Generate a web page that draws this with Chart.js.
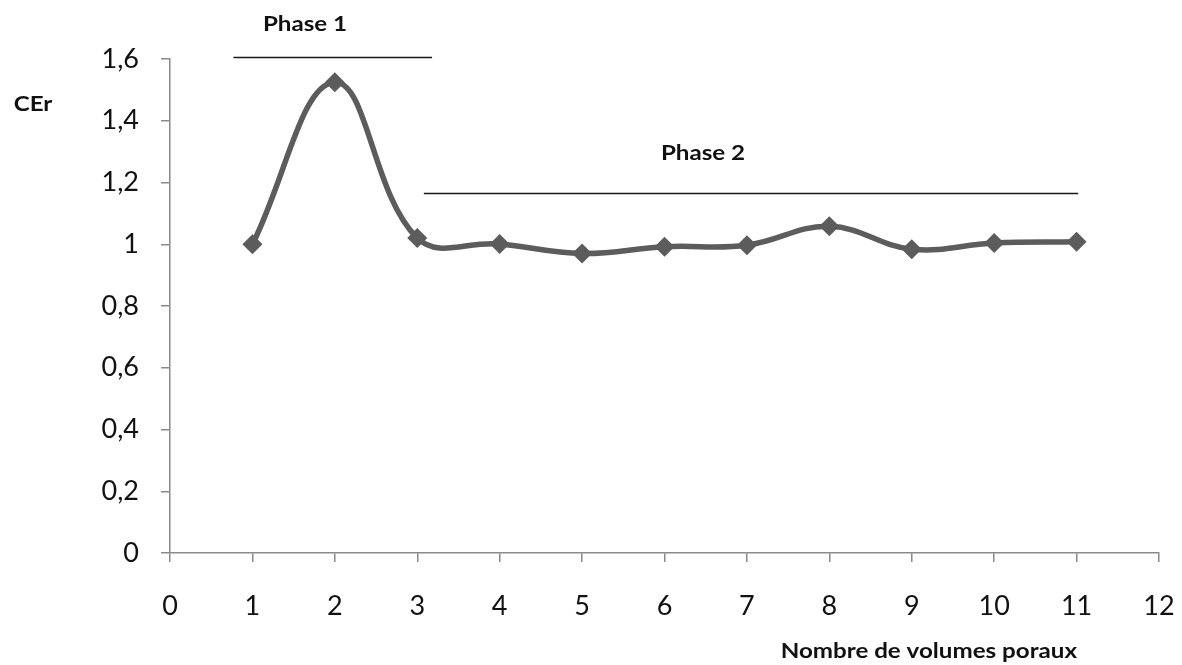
<!DOCTYPE html>
<html>
<head>
<meta charset="utf-8">
<script src="https://cdn.jsdelivr.net/npm/chart.js@4/dist/chart.umd.min.js"></script>
<style>
  html, body { margin: 0; padding: 0; background: #ffffff; }
  #wrap { width: 1182px; height: 665px; position: relative; }
</style>
</head>
<body>
<div id="wrap"><canvas id="c" width="1182" height="665"></canvas></div>
<script>
// Nombre de volumes poraux (x) and CEr values (y)
const volumes = [1, 2, 3, 4, 5, 6, 7, 8, 9, 10, 11];
const cer = [1.00, 1.525, 1.020, 1.001, 0.970, 0.992, 0.997, 1.058, 0.984, 1.004, 1.008];

// Axis tick labels (French decimal comma)
const xTickLabels = ['0', '1', '2', '3', '4', '5', '6', '7', '8', '9', '10', '11', '12'];
const yTickLabels = ['0', '0,2', '0,4', '0,6', '0,8', '1', '1,2', '1,4', '1,6'];

// Phase brackets: label, start and end on the x axis, height on the y axis
const phaseNames = ['Phase 1', 'Phase 2'];
const phaseStart = [0.77, 3.08];
const phaseEnd = [3.18, 11.02];
const phaseLevel = [1.607, 1.165];

const FONT = 'Lato, "Open Sans", sans-serif';
const AXIS_GREY = '#8a8a8a';
const LINE_GREY = '#5c5c5c';

// bold annotation text, slightly widened
function wideText(ctx, text, x, y, align) {
  const sx = 1.15;
  ctx.save();
  ctx.translate(x, y);
  ctx.scale(sx, 1);
  ctx.textAlign = align;
  ctx.fillText(text, 0, 0);
  ctx.restore();
}

const phasePlugin = {
  id: 'phases',
  afterDatasetsDraw(chart) {
    const { ctx, scales: { x, y } } = chart;
    ctx.save();
    for (let i = 0; i < phaseNames.length; i++) {
      const x0 = x.getPixelForValue(phaseStart[i]);
      const x1 = x.getPixelForValue(phaseEnd[i]);
      const yy = Math.round(y.getPixelForValue(phaseLevel[i])) + 0.5;
      ctx.strokeStyle = '#1a1a1a';
      ctx.lineWidth = 1.4;
      ctx.beginPath();
      ctx.moveTo(x0, yy);
      ctx.lineTo(x1, yy);
      ctx.stroke();
    }
    ctx.fillStyle = '#111111';
    ctx.font = 'bold 21px ' + FONT;
    ctx.textBaseline = 'middle';
    wideText(ctx, phaseNames[0], 305, 24, 'center');
    wideText(ctx, phaseNames[1], 703, 153, 'center');

    // axis titles
    wideText(ctx, 'CEr', 33, 104, 'center');
    wideText(ctx, 'Nombre de volumes poraux', 1077, 651, 'right');
    ctx.restore();
  }
};

new Chart(document.getElementById('c'), {
  type: 'line',
  data: {
    datasets: [{
      data: volumes.map((v, i) => ({ x: v, y: cer[i] })),
      borderColor: LINE_GREY,
      backgroundColor: LINE_GREY,
      borderWidth: 5.5,
      tension: 0.4,
      pointStyle: 'rectRot',
      pointRadius: 10,
      pointHoverRadius: 10,
      pointBorderWidth: 0,
      pointBackgroundColor: LINE_GREY,
      clip: false
    }]
  },
  options: {
    responsive: false,
    animation: false,
    devicePixelRatio: 1,
    layout: { padding: { left: 0, right: 23, top: 59, bottom: 46 } },
    plugins: { legend: { display: false }, tooltip: { enabled: false } },
    scales: {
      x: {
        type: 'linear',
        min: 0, max: 12,
        afterFit(s) { s.height = 66; s.paddingLeft = 0; s.paddingRight = 0; },
        ticks: {
          stepSize: 1,
          autoSkip: false,
          maxRotation: 0,
          padding: 28,
          color: '#111',
          font: { family: FONT, size: 27 },
          callback: (v) => xTickLabels[v]
        },
        grid: { drawOnChartArea: false, drawTicks: true, tickLength: 9, color: AXIS_GREY, lineWidth: 1.5 },
        border: { color: AXIS_GREY, width: 1.5 }
      },
      y: {
        min: 0, max: 1.6,
        afterFit(s) { s.width = 170; s.paddingTop = 0; s.paddingBottom = 0; },
        ticks: {
          stepSize: 0.2,
          padding: 22,
          color: '#111',
          font: { family: FONT, size: 27 },
          callback: (v) => yTickLabels[Math.round(v / 0.2)]
        },
        grid: { drawOnChartArea: false, drawTicks: true, tickLength: 9, color: AXIS_GREY, lineWidth: 1.5 },
        border: { color: AXIS_GREY, width: 1.5 }
      }
    }
  },
  plugins: [phasePlugin]
});
</script>
</body>
</html>
